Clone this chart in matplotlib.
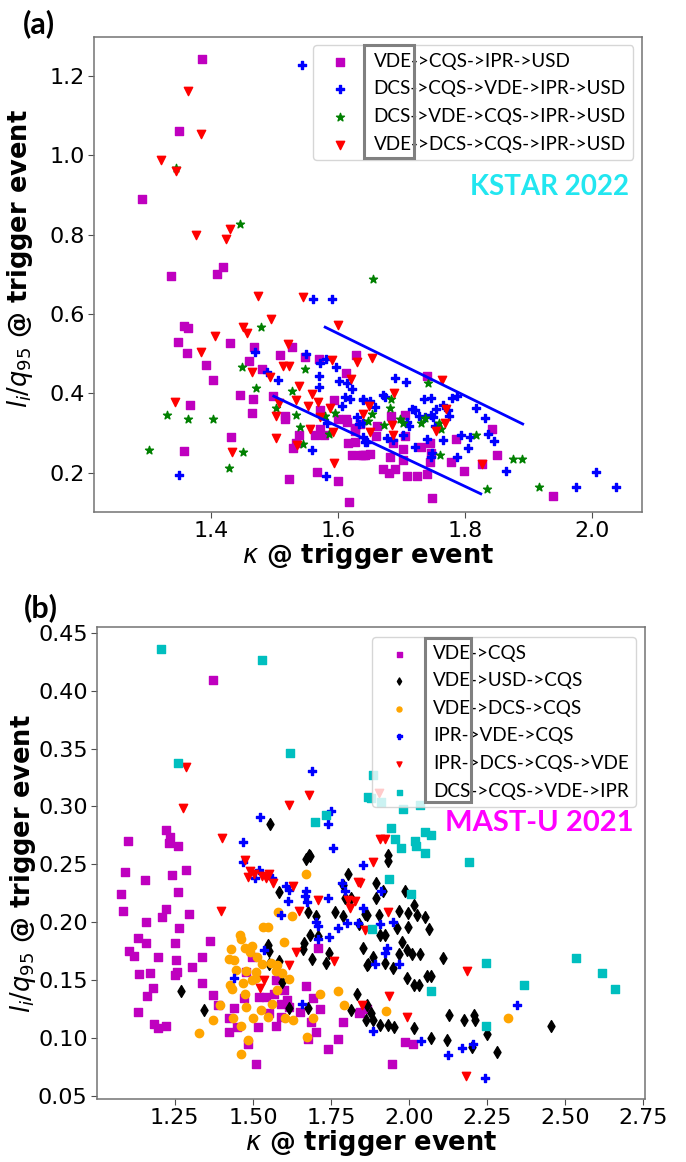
import matplotlib
matplotlib.use("Agg")
import matplotlib.pyplot as plt
from matplotlib.patches import Rectangle

# ---- panel (a): KSTAR 2022 ----
a_labels = ["VDE->CQS->IPR->USD", "DCS->CQS->VDE->IPR->USD",
            "DCS->VDE->CQS->IPR->USD", "VDE->DCS->CQS->IPR->USD"]

a_mag = [(1.386, 1.242), (1.350, 1.061), (1.291, 0.890), (1.419, 0.718), (1.409, 0.701), (1.337, 0.696),
         (1.357, 0.570), (1.364, 0.565), (1.348, 0.529), (1.430, 0.527), (1.468, 0.517), (1.362, 0.502),
         (1.528, 0.517), (1.509, 0.497), (1.548, 0.492), (1.570, 0.487), (1.628, 0.497), (1.460, 0.482),
         (1.392, 0.472), (1.480, 0.461), (1.403, 0.434), (1.613, 0.451), (1.446, 0.396), (1.498, 0.393),
         (1.466, 0.386), (1.594, 0.383), (1.367, 0.371), (1.465, 0.351), (1.517, 0.343), (1.517, 0.336),
         (1.572, 0.358), (1.600, 0.336), (1.613, 0.336), (1.614, 0.328), (1.627, 0.313), (1.627, 0.305),
         (1.572, 0.310), (1.564, 0.295), (1.578, 0.295), (1.539, 0.295), (1.534, 0.275), (1.529, 0.262),
         (1.432, 0.290), (1.616, 0.275), (1.627, 0.278), (1.622, 0.245), (1.636, 0.245), (1.643, 0.245),
         (1.357, 0.255), (1.567, 0.202), (1.600, 0.179), (1.523, 0.184), (1.617, 0.126),
         (1.740, 0.444), (1.843, 0.310), (1.683, 0.343), (1.706, 0.346), (1.786, 0.285), (1.660, 0.293),
         (1.706, 0.293), (1.687, 0.275), (1.702, 0.260), (1.731, 0.265), (1.745, 0.275), (1.639, 0.245),
         (1.650, 0.247), (1.682, 0.240), (1.702, 0.232), (1.746, 0.250), (1.745, 0.227), (1.778, 0.227),
         (1.850, 0.245), (1.827, 0.222), (1.798, 0.205), (1.671, 0.210), (1.690, 0.210), (1.680, 0.200),
         (1.709, 0.192), (1.724, 0.192), (1.740, 0.197), (1.748, 0.137), (1.939, 0.142), (1.635, 0.323),
         (1.661, 0.318)]
a_blue = [(1.543, 1.227), (1.561, 0.638), (1.591, 0.638), (1.469, 0.504), (1.550, 0.499), (1.572, 0.477),
          (1.581, 0.487), (1.597, 0.467), (1.488, 0.454), (1.506, 0.434), (1.570, 0.444), (1.602, 0.431),
          (1.614, 0.426), (1.570, 0.416), (1.622, 0.411), (1.611, 0.391), (1.619, 0.386), (1.639, 0.386),
          (1.606, 0.368), (1.583, 0.325), (1.630, 0.341), (1.633, 0.323), (1.639, 0.325), (1.559, 0.257),
          (1.643, 0.278), (1.350, 0.194), (1.581, 0.192),
          (1.690, 0.439), (1.707, 0.429), (1.671, 0.396), (1.674, 0.391), (1.639, 0.383), (1.650, 0.381),
          (1.735, 0.386), (1.746, 0.388), (1.780, 0.388), (1.787, 0.393), (1.817, 0.363), (1.831, 0.338),
          (1.836, 0.298), (1.846, 0.280), (1.658, 0.366), (1.717, 0.361), (1.721, 0.358), (1.728, 0.343),
          (1.737, 0.341), (1.754, 0.361), (1.765, 0.371), (1.773, 0.358), (1.746, 0.346), (1.750, 0.341),
          (1.775, 0.343), (1.709, 0.328), (1.712, 0.318), (1.702, 0.295), (1.687, 0.283), (1.677, 0.288),
          (1.753, 0.318), (1.794, 0.295), (1.808, 0.290), (1.765, 0.283), (1.740, 0.285), (1.721, 0.265),
          (1.805, 0.262), (1.748, 0.250), (1.746, 0.240), (1.787, 0.240), (1.865, 0.205), (1.975, 0.164),
          (2.006, 0.202), (2.038, 0.164), (1.639, 0.290), (1.646, 0.278)]
a_green = [(1.345, 0.967), (1.446, 0.827), (1.479, 0.568), (1.449, 0.467), (1.548, 0.461), (1.471, 0.414),
           (1.528, 0.406), (1.502, 0.363), (1.331, 0.346), (1.364, 0.336), (1.403, 0.336), (1.534, 0.346),
           (1.580, 0.343), (1.595, 0.351), (1.647, 0.330), (1.540, 0.315), (1.586, 0.298), (1.545, 0.273),
           (1.450, 0.252), (1.302, 0.257), (1.428, 0.212),
           (1.655, 0.688), (1.742, 0.426), (1.683, 0.386), (1.682, 0.363), (1.654, 0.348), (1.698, 0.336),
           (1.702, 0.325), (1.731, 0.325), (1.737, 0.338), (1.672, 0.320), (1.762, 0.310), (1.759, 0.325),
           (1.817, 0.295), (1.761, 0.245), (1.876, 0.235), (1.890, 0.235), (1.835, 0.159), (1.917, 0.164)]
a_red = [(1.364, 1.162), (1.384, 1.053), (1.321, 0.988), (1.345, 0.960), (1.430, 0.814), (1.376, 0.799),
         (1.424, 0.789), (1.474, 0.645), (1.545, 0.643), (1.494, 0.587), (1.600, 0.572), (1.450, 0.567),
         (1.457, 0.552), (1.406, 0.545), (1.384, 0.504), (1.521, 0.524), (1.591, 0.484), (1.630, 0.479),
         (1.513, 0.469), (1.523, 0.469), (1.465, 0.454), (1.493, 0.441), (1.620, 0.436), (1.539, 0.419),
         (1.559, 0.398), (1.534, 0.383), (1.569, 0.378), (1.343, 0.378), (1.507, 0.376), (1.553, 0.368),
         (1.587, 0.363), (1.502, 0.343), (1.572, 0.341), (1.639, 0.348), (1.556, 0.310), (1.592, 0.303),
         (1.535, 0.270), (1.502, 0.288), (1.433, 0.252), (1.594, 0.225),
         (1.654, 0.489), (1.764, 0.434), (1.688, 0.401), (1.649, 0.368), (1.770, 0.361), (1.685, 0.320),
         (1.769, 0.325), (1.754, 0.305), (1.687, 0.295), (1.650, 0.303), (1.827, 0.222)]

# two guide lines drawn in (a): (kappa0, kappa1), (y0, y1)
a_line_up_k = [1.580, 1.891]
a_line_up_y = [0.567, 0.323]
a_line_lo_k = [1.499, 1.825]
a_line_lo_y = [0.393, 0.147]

# ---- panel (b): MAST-U 2021 ----
b_labels = ["VDE->CQS", "VDE->USD->CQS", "VDE->DCS->CQS",
            "IPR->VDE->CQS", "IPR->DCS->CQS->VDE", "DCS->CQS->VDE->IPR"]

b_mag = [(1.371, 0.409), (1.221, 0.280), (1.234, 0.274), (1.231, 0.268), (1.260, 0.266), (1.101, 0.270),
         (1.091, 0.243), (1.155, 0.236), (1.079, 0.224), (1.085, 0.210), (1.240, 0.241), (1.285, 0.245),
         (1.260, 0.226), (1.221, 0.211), (1.209, 0.204), (1.158, 0.200), (1.294, 0.207), (1.263, 0.195),
         (1.133, 0.186), (1.158, 0.182), (1.250, 0.182), (1.364, 0.184), (1.104, 0.175), (1.120, 0.171),
         (1.196, 0.170), (1.253, 0.167), (1.336, 0.170), (1.304, 0.161), (1.136, 0.155), (1.171, 0.156),
         (1.250, 0.154), (1.256, 0.157), (1.336, 0.147), (1.180, 0.143), (1.161, 0.136), (1.371, 0.137),
         (1.133, 0.122), (1.183, 0.112), (1.196, 0.108), (1.221, 0.110), (1.387, 0.128), (1.441, 0.126),
         (1.422, 0.117), (1.422, 0.105), (1.450, 0.109), (1.517, 0.109), (1.574, 0.110), (1.485, 0.095),
         (1.510, 0.077), (1.669, 0.145), (1.691, 0.134), (1.714, 0.125), (1.650, 0.122), (1.685, 0.114),
         (1.701, 0.105), (1.675, 0.099), (1.787, 0.114), (1.771, 0.099), (1.742, 0.090), (1.707, 0.178),
         (1.498, 0.170), (1.840, 0.121), (1.520, 0.135), (1.542, 0.135), (1.568, 0.138), (1.599, 0.141),
         (1.609, 0.133), (1.590, 0.129), (1.574, 0.150), (1.479, 0.157), (1.472, 0.134), (1.552, 0.121),
         (1.590, 0.118), (1.615, 0.127), (1.844, 0.122), (1.866, 0.125), (1.987, 0.096), (2.012, 0.095),
         (1.945, 0.077)]
b_black = [(1.555, 0.285), (1.679, 0.258), (1.933, 0.258), (1.669, 0.255), (1.682, 0.257), (1.806, 0.242),
           (1.583, 0.226), (1.675, 0.209), (1.701, 0.205), (1.764, 0.209), (1.790, 0.205), (1.682, 0.189),
           (1.707, 0.188), (1.663, 0.182), (1.660, 0.177), (1.548, 0.180), (1.552, 0.175), (1.853, 0.178),
           (1.688, 0.168), (1.733, 0.165), (1.745, 0.173), (1.552, 0.164), (1.583, 0.166), (1.866, 0.163),
           (1.593, 0.148), (1.269, 0.140), (1.345, 0.124), (1.615, 0.126), (1.675, 0.126), (1.834, 0.138),
           (1.815, 0.124), (1.863, 0.115), (1.796, 0.221), (1.815, 0.221), (1.790, 0.232), (1.840, 0.198),
           (1.860, 0.207), (1.933, 0.253), (1.895, 0.234), (1.917, 0.227), (1.895, 0.221), (1.987, 0.227),
           (2.015, 0.215), (1.968, 0.210), (1.996, 0.208), (2.025, 0.206), (2.050, 0.204), (2.063, 0.194),
           (1.866, 0.206), (1.904, 0.206), (1.961, 0.195), (1.996, 0.196), (1.907, 0.189), (1.923, 0.189),
           (1.977, 0.183), (1.993, 0.176), (2.009, 0.172), (2.034, 0.172), (2.110, 0.169), (1.885, 0.170),
           (1.869, 0.164), (1.968, 0.172), (1.923, 0.165), (1.948, 0.160), (1.993, 0.152), (2.015, 0.146),
           (2.031, 0.146), (2.056, 0.153), (2.069, 0.153), (1.866, 0.128), (1.879, 0.121), (1.885, 0.115),
           (1.907, 0.111), (1.933, 0.111), (1.952, 0.109), (2.015, 0.108), (2.069, 0.100), (2.120, 0.098),
           (2.129, 0.120), (2.177, 0.115), (2.209, 0.120), (2.212, 0.115), (2.250, 0.103), (2.203, 0.092),
           (2.282, 0.088), (2.454, 0.110)]
b_orange = [(1.669, 0.242), (1.580, 0.209), (1.625, 0.205), (1.533, 0.196), (1.548, 0.196), (1.460, 0.189),
            (1.463, 0.185), (1.599, 0.183), (1.431, 0.177), (1.475, 0.178), (1.498, 0.179), (1.422, 0.168),
            (1.441, 0.167), (1.491, 0.174), (1.514, 0.170), (1.530, 0.164), (1.558, 0.165), (1.447, 0.159),
            (1.479, 0.158), (1.510, 0.157), (1.428, 0.146), (1.434, 0.142), (1.469, 0.147), (1.498, 0.150),
            (1.510, 0.152), (1.475, 0.138), (1.574, 0.158), (1.593, 0.156), (1.615, 0.151), (1.577, 0.163),
            (1.577, 0.141), (1.396, 0.128), (1.479, 0.127), (1.526, 0.124), (1.561, 0.129), (1.437, 0.117),
            (1.501, 0.117), (1.549, 0.118), (1.603, 0.117), (1.628, 0.115), (1.371, 0.115), (1.463, 0.110),
            (1.329, 0.104), (1.485, 0.098), (1.463, 0.086), (1.672, 0.101), (1.691, 0.117), (1.714, 0.138),
            (1.771, 0.140), (1.793, 0.128), (1.926, 0.123), (2.317, 0.117)]
b_blue = [(1.688, 0.331), (1.749, 0.296), (1.742, 0.285), (1.523, 0.291), (1.469, 0.269), (1.758, 0.264),
          (1.469, 0.252), (1.853, 0.249), (1.520, 0.245), (1.507, 0.238), (1.561, 0.238), (1.605, 0.231),
          (1.615, 0.228), (1.669, 0.227), (1.666, 0.223), (1.672, 0.217), (1.612, 0.218), (1.590, 0.206),
          (1.739, 0.221), (1.784, 0.234), (1.796, 0.227), (1.701, 0.200), (1.707, 0.197), (1.771, 0.195),
          (1.800, 0.199), (1.837, 0.199), (1.710, 0.185), (1.745, 0.187), (1.536, 0.176), (1.441, 0.152),
          (1.656, 0.129), (1.853, 0.212), (1.910, 0.227), (1.907, 0.198), (1.948, 0.200), (1.929, 0.178),
          (1.923, 0.173), (1.891, 0.164), (1.968, 0.164), (1.885, 0.106), (2.037, 0.097), (2.126, 0.085),
          (2.171, 0.091), (2.206, 0.095), (2.345, 0.128), (2.244, 0.065)]
b_red = [(1.285, 0.334), (1.679, 0.310), (1.275, 0.299), (1.615, 0.301), (1.402, 0.273), (1.907, 0.272),
         (1.923, 0.272), (1.905, 0.312), (1.475, 0.254), (1.491, 0.244), (1.504, 0.242), (1.485, 0.239),
         (1.530, 0.240), (1.552, 0.242), (1.542, 0.238), (1.564, 0.234), (1.628, 0.231), (1.707, 0.219),
         (1.647, 0.210), (1.399, 0.210), (1.837, 0.235), (1.803, 0.219), (1.828, 0.218), (1.812, 0.212),
         (1.860, 0.193), (1.637, 0.174), (1.761, 0.166), (1.615, 0.163), (1.536, 0.150), (1.523, 0.143),
         (1.850, 0.128), (1.885, 0.252), (1.844, 0.234), (1.933, 0.209), (2.187, 0.158), (1.936, 0.136),
         (1.993, 0.118), (2.181, 0.067)]
b_cyan = [(1.206, 0.436), (1.529, 0.427), (1.618, 0.346), (1.260, 0.338), (1.869, 0.308), (1.733, 0.293),
          (1.698, 0.287), (1.885, 0.327), (1.879, 0.307), (1.910, 0.304), (1.980, 0.298), (2.034, 0.301),
          (1.942, 0.281), (1.955, 0.272), (1.974, 0.264), (2.018, 0.270), (2.050, 0.278), (2.069, 0.275),
          (2.021, 0.266), (2.050, 0.260), (2.193, 0.252), (1.936, 0.237), (2.006, 0.224), (1.882, 0.194),
          (2.247, 0.165), (2.533, 0.169), (2.619, 0.156), (2.660, 0.142), (2.368, 0.146), (2.070, 0.140),
          (2.247, 0.110)]

LEG_FONT = "Lato"
YLABEL = r"$l_i/q_{95}$ @ trigger event"
XLABEL = r"$\kappa$ @ trigger event"


def scatter(ax, pts, **kw):
    xs = [p[0] for p in pts]
    ys = [p[1] for p in pts]
    return ax.scatter(xs, ys, **kw)


def style_axes(ax, ylab_y):
    for sp in ax.spines.values():
        sp.set_color("0.45")
        sp.set_linewidth(1.1)
    ax.tick_params(labelsize=16, length=4, color="0.3", pad=2.5)
    ax.set_xlabel(XLABEL, fontsize=18.5, fontweight="bold", labelpad=0)
    ax.set_ylabel(YLABEL, fontsize=18.5, fontweight="bold", labelpad=2)
    ax.yaxis.set_label_coords(-0.108, ylab_y)


fig = plt.figure(figsize=(6.86, 11.62), dpi=100)

# ---------- (a) ----------
ax1 = fig.add_axes([0.137, 0.559, 0.799, 0.409])
h = [scatter(ax1, a_mag, marker="s", color="m"),
     scatter(ax1, a_blue, marker="P", color="b"),
     scatter(ax1, a_green, marker="*", color="g"),
     scatter(ax1, a_red, marker="v", color="r")]
ax1.plot(a_line_up_k, a_line_up_y, color="b", lw=2)
ax1.plot(a_line_lo_k, a_line_lo_y, color="b", lw=2)
ax1.set_xlim(1.216, 2.079)
ax1.set_ylim(0.1, 1.298)
ax1.set_xticks([1.4, 1.6, 1.8, 2.0])
ax1.set_yticks([0.2, 0.4, 0.6, 0.8, 1.0, 1.2])
style_axes(ax1, 0.535)
ax1.legend(h, a_labels, loc="upper right", bbox_to_anchor=(0.984, 0.983), borderaxespad=0,
           labelspacing=0.56, prop={"family": LEG_FONT, "size": 13.6})
ax1.text(0.977, 0.684, "KSTAR 2022", transform=ax1.transAxes, ha="right", va="center",
         fontsize=20, fontweight="bold", color="#22e6f0", family=LEG_FONT)

# ---------- (b) ----------
ax2 = fig.add_axes([0.141, 0.0542, 0.799, 0.406])
h = [scatter(ax2, b_mag, marker="s", color="m"),
     scatter(ax2, b_black, marker="d", color="k"),
     scatter(ax2, b_orange, marker="o", color="orange"),
     scatter(ax2, b_blue, marker="P", color="b"),
     scatter(ax2, b_red, marker="v", color="r"),
     scatter(ax2, b_cyan, marker="s", color="c")]
ax2.set_xlim(1.0, 2.755)
ax2.set_ylim(0.047, 0.455)
ax2.set_xticks([1.25, 1.5, 1.75, 2.0, 2.25, 2.5, 2.75])
ax2.set_yticks([0.05, 0.10, 0.15, 0.20, 0.25, 0.30, 0.35, 0.40, 0.45])
style_axes(ax2, 0.5)
ax2.legend(h, b_labels, loc="upper right", bbox_to_anchor=(0.984, 0.979), borderaxespad=0,
           labelspacing=0.56, markerscale=0.6, prop={"family": LEG_FONT, "size": 13.6})
ax2.text(0.98, 0.585, "MAST-U 2021", transform=ax2.transAxes, ha="right", va="center",
         fontsize=21, fontweight="bold", color="#ff00ff", family=LEG_FONT)

# grey boxes highlighting the first event in each legend (pixel coords -> figure fraction)
W, H = 686.0, 1162.0
for x0, y0, x1, y1 in [(364, 45, 414, 158), (425, 638, 471, 802)]:
    fig.add_artist(Rectangle((x0 / W, 1 - y1 / H), (x1 - x0) / W, (y1 - y0) / H,
                             transform=fig.transFigure, fill=False, edgecolor="0.5", lw=2.2))

fig.text(23 / W, 1 - 24 / H, "(a)", fontsize=22, fontweight="bold", family=LEG_FONT, va="center")
fig.text(24 / W, 1 - 608 / H, "(b)", fontsize=22, fontweight="bold", family=LEG_FONT, va="center")

fig.savefig("out.png", dpi=100)
